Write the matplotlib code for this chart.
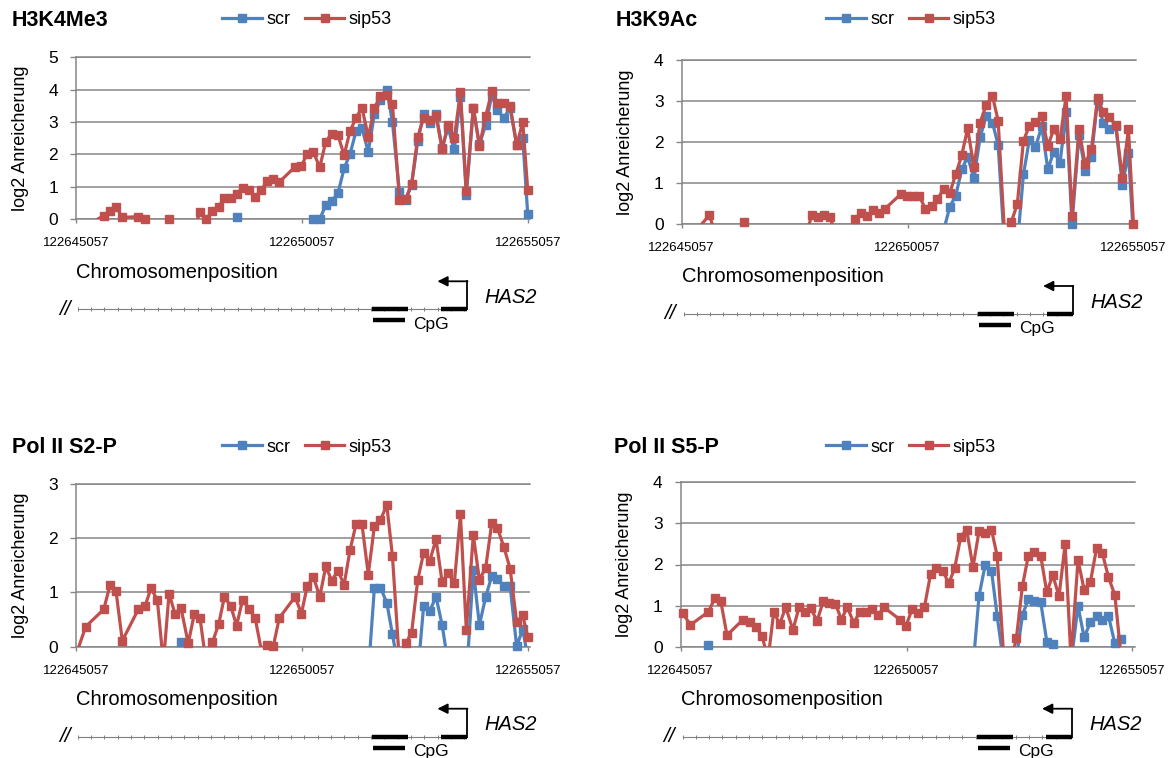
import numpy as np
import matplotlib
matplotlib.use('Agg')
import matplotlib.pyplot as plt
from matplotlib.lines import Line2D

plt.rcParams['font.family'] = ['Liberation Sans', 'DejaVu Sans']

W, H = 1173, 758
BLUE = '#4F81BD'
RED = '#C0504D'
GRID = '#868686'

region_start = 122645057
region_len = 10000
tick_offsets = [0, 5000, 10000]

# probe positions (bp downstream of region_start)
probe_offset = [50, 215, 615, 755, 885, 1025, 1380, 1530, 1660, 1800,
                1935, 2060, 2190, 2325, 2485, 2620, 2745, 2880, 3020, 3160,
                3285, 3425, 3555, 3690, 3830, 3965, 4095, 4230, 4370, 4500,
                4850, 4990, 5120, 5255, 5395, 5530, 5660, 5800, 5935, 6065,
                6200, 6330, 6470, 6605, 6740, 6880, 7005, 7160, 7300, 7430,
                7565, 7695, 7830, 7970, 8105, 8235, 8375, 8510, 8640, 8795,
                8930, 9070, 9205, 9330, 9470, 9610, 9755, 9890, 10000]

nan = np.nan

h3k4_scr = [nan] * 22 + [0.08] + [nan] * 10 + [
    0.0, 0.0, 0.44, 0.56, 0.81, 1.57, 2.01, 2.72, 2.82, 2.08,
    3.25, 3.69, 3.99, 3.0, 0.84, 0.59, 1.07, 2.42, 3.25, 2.97,
    3.25, 2.21, 2.82, 2.16, 3.79, 0.74, 3.43, 2.31, 2.92, 3.84,
    3.38, 3.13, 3.43, 2.3, 2.5, 0.15]
h3k4_sip = [-0.35, -0.2, 0.11, 0.26, 0.39, 0.06, 0.08, 0.01, -0.3, -0.4,
            -0.3, 0.0, -0.4, -0.5, -0.3, -0.3, 0.23, 0.0, 0.26, 0.39,
            0.66, 0.66, 0.79, 0.97, 0.89, 0.69, 0.89, 1.17, 1.25, 1.15,
            1.62, 1.65, 2.03, 2.08, 1.60, 2.40, 2.64, 2.59, 1.98, 2.72,
            3.13, 3.45, 2.54, 3.43, 3.81, 3.84, 3.56, 0.61, 0.63, 1.10,
            2.54, 3.13, 3.08, 3.20, 2.16, 2.92, 2.50, 3.94, 0.87, 3.45,
            2.26, 3.18, 3.96, 3.58, 3.58, 3.51, 2.29, 3.00, 0.89]

h3k9_scr = [nan] * 37 + [
    -0.15, 0.42, 0.69, 1.33, 1.64, 1.11, 2.11, 2.63, 2.47, 1.93,
    -0.8, -0.8, -0.5, 1.21, 2.05, 1.87, 2.38, 1.33, 1.76, 1.5,
    2.72, 0.0, 2.17, 1.30, 1.64, 3.02, 2.46, 2.31, 2.39, 0.95,
    1.72, -0.3]
h3k9_sip = [-0.5, -0.3, 0.22, -0.3, -0.5, -0.4, 0.06, -0.3, -0.4, -0.4,
            -0.4, -0.4, -0.4, -0.1, -0.4, -0.3, -0.3, 0.22, 0.18, 0.22,
            0.16, -0.3, -0.4, -0.3, 0.11, 0.28, 0.2, 0.33, 0.28, 0.37,
            0.73, 0.69, 0.69, 0.69, 0.37, 0.45, 0.61, 0.85, 0.76, 1.21,
            1.68, 2.33, 1.38, 2.47, 2.90, 3.12, 2.52, -0.5, 0.06, 0.49,
            2.03, 2.39, 2.50, 2.63, 1.90, 2.31, 2.07, 3.12, 0.2, 2.31,
            1.46, 1.82, 3.07, 2.74, 2.60, 2.41, 1.13, 2.32, 0.0]

s2p_scr = [nan] * 13 + [0.08, -0.3] + [nan] * 27 + [
    -0.5, 1.08, 1.09, 0.81, 0.23, -0.5, nan, nan, -0.5, 0.75,
    0.66, 0.92, 0.40, -0.3, nan, nan, -0.6, 1.41, 0.40, 0.92,
    1.31, 1.25, 1.12, 1.12, 0.01, 0.32, -0.2]
s2p_sip = [-0.03, 0.37, 0.69, 1.14, 1.03, 0.11, 0.69, 0.75, 1.08, 0.86,
           -0.3, 0.98, 0.61, 0.71, 0.06, 0.61, 0.53, -0.3, 0.08, 0.42,
           0.92, 0.75, 0.39, 0.87, 0.69, 0.53, -0.03, 0.03, 0.02, 0.53,
           0.92, 0.61, 1.12, 1.29, 0.92, 1.48, 1.22, 1.40, 1.14, 1.78,
           2.26, 2.26, 1.33, 2.22, 2.34, 2.61, 1.67, -0.3, 0.06, 0.26,
           1.23, 1.73, 1.58, 1.98, 1.19, 1.36, 1.17, 2.44, 0.31, 2.06,
           1.23, 1.46, 2.29, 2.19, 1.84, 1.44, 0.45, 0.58, 0.18]

s5p_scr = [nan, nan, 0.04] + [nan] * 39 + [
    -0.5, 1.24, 1.99, 1.85, 0.75, -0.5, nan, -0.3, 0.77, 1.16,
    1.12, 1.08, 0.12, 0.06, -0.3, -0.02, -0.4, 0.99, 0.23, 0.59,
    0.75, 0.66, 0.75, 0.08, 0.18, nan, nan]
s5p_sip = [0.81, 0.53, 0.85, 1.18, 1.12, 0.28, 0.66, 0.61, 0.49, 0.26,
           -0.3, 0.85, 0.55, 0.96, 0.41, 0.96, 0.84, 0.93, 0.63, 1.12,
           1.07, 1.05, 0.66, 0.96, 0.58, 0.84, 0.84, 0.91, 0.77, 0.96,
           0.66, 0.51, 0.91, 0.81, 0.96, 1.76, 1.91, 1.85, 1.54, 1.91,
           2.68, 2.85, 1.93, 2.82, 2.76, 2.85, 2.21, -0.4, -0.4, 0.2,
           1.48, 2.21, 2.31, 2.21, 1.32, 1.74, 1.23, 2.50, -0.3, 2.11,
           1.39, 1.58, 2.39, 2.29, 1.69, 1.26, -0.3, nan, nan]

panels = [
    # title, scr, sip53, ymax, (left, top, right, bottom) in px, title x, legend x, row y
    ('H3K4Me3', h3k4_scr, h3k4_sip, 5, (76, 57.3, 530, 219.3), 12, 222, 20),
    ('H3K9Ac', h3k9_scr, h3k9_sip, 4, (681.7, 60, 1135.7, 224), 616, 826, 20),
    ('Pol II S2-P', s2p_scr, s2p_sip, 3, (76, 484, 530, 646.7), 12, 222, 447),
    ('Pol II S5-P', s5p_scr, s5p_sip, 4, (680.7, 482.3, 1134.7, 646.7), 614, 826, 447),
]

x = region_start + np.array(probe_offset)
xlim = (region_start, region_start + region_len + 50)

LW = 2.3
MS = 5.3

fig = plt.figure(figsize=(W / 100, H / 100), dpi=100)


def px_axes(left, top, right, bottom):
    return fig.add_axes([left / W, 1 - bottom / H, (right - left) / W, (bottom - top) / H])


def draw_series(ax, y, color, z):
    y = np.asarray(y, float)
    ax.plot(x, y, color=color, lw=LW, zorder=z)
    up = y >= 0
    ax.plot(x[up], y[up], ls='none', marker='s', ms=MS, color=color,
            clip_on=False, zorder=z + 0.1)


def draw_gene(left, right, axis_px):
    g = px_axes(left, axis_px, right, axis_px + 120)
    g.set_xlim(xlim)
    g.set_ylim(120, 0)
    g.axis('off')
    s = region_start
    g.text(s, 53, 'Chromosomenposition', fontsize=14.5, va='center', ha='left')
    g.text(s - 250, 90, '//', fontsize=15, style='italic', va='center', ha='center')
    g.plot([s + 40, s + 8656], [90, 90], color='#7f7f7f', lw=0.8)
    ticks = s + np.arange(40, 8656, 295)
    g.plot(ticks, np.full(len(ticks), 90), ls='none', marker='|', ms=3.5,
           mew=0.7, color='#7f7f7f')
    for a, b in [(6553, 7350), (8081, 8656)]:
        g.plot([s + a, s + b], [90, 90], color='black', lw=3.2, solid_capstyle='butt')
    g.plot([s + 8656, s + 8656], [90, 62], color='black', lw=1.3)
    g.annotate('', xy=(s + 8000, 62), xytext=(s + 8666, 62),
               arrowprops=dict(arrowstyle='-|>', lw=1.3, color='black',
                               mutation_scale=15, shrinkA=0, shrinkB=0))
    g.text(s + 9050, 78, 'HAS2', fontsize=14.5, style='italic', va='center', ha='left')
    g.plot([s + 6575, s + 7284], [101, 101], color='black', lw=3.2, solid_capstyle='butt')
    g.text(s + 7460, 105, 'CpG', fontsize=12.5, va='center', ha='left')


for title, scr, sip, ymax, (l, t, r, b), tx, lx, ly in panels:
    ax = px_axes(l, t, r, b)
    draw_series(ax, scr, BLUE, 3)
    draw_series(ax, sip, RED, 3.5)
    ax.set_xlim(xlim)
    ax.set_ylim(0, ymax)
    ax.set_yticks(range(ymax + 1))
    ax.set_xticks(region_start + np.array(tick_offsets))
    ax.set_xticklabels([str(region_start + o) for o in tick_offsets])
    ax.yaxis.grid(True, color=GRID, lw=1.1)
    ax.set_axisbelow(True)
    for side in ['left', 'bottom', 'top']:
        ax.spines[side].set_color(GRID)
        ax.spines[side].set_linewidth(1.1)
    ax.spines['right'].set_visible(False)
    ax.tick_params(axis='y', length=4, width=1, color=GRID, pad=9, labelsize=12.5)
    ax.tick_params(axis='x', length=3, width=1, color=GRID, pad=10, labelsize=9.5)
    ax.set_ylabel('log2 Anreicherung', fontsize=13, labelpad=14)

    fig.text(tx / W, 1 - ly / H, title, fontsize=15.5, fontweight='bold',
             va='center', ha='left')
    handles = [Line2D([], [], color=BLUE, lw=LW, marker='s', ms=MS),
               Line2D([], [], color=RED, lw=LW, marker='s', ms=MS)]
    ax.legend(handles, ['scr', 'sip53'], loc='center left',
              bbox_to_anchor=(lx / W, 1 - ly / H), bbox_transform=fig.transFigure,
              ncol=2, frameon=False, fontsize=13, handlelength=2.2,
              handletextpad=0.25, columnspacing=0.8, borderpad=0, borderaxespad=0)

    draw_gene(l, r, b)

fig.savefig('out.png', dpi=100)
